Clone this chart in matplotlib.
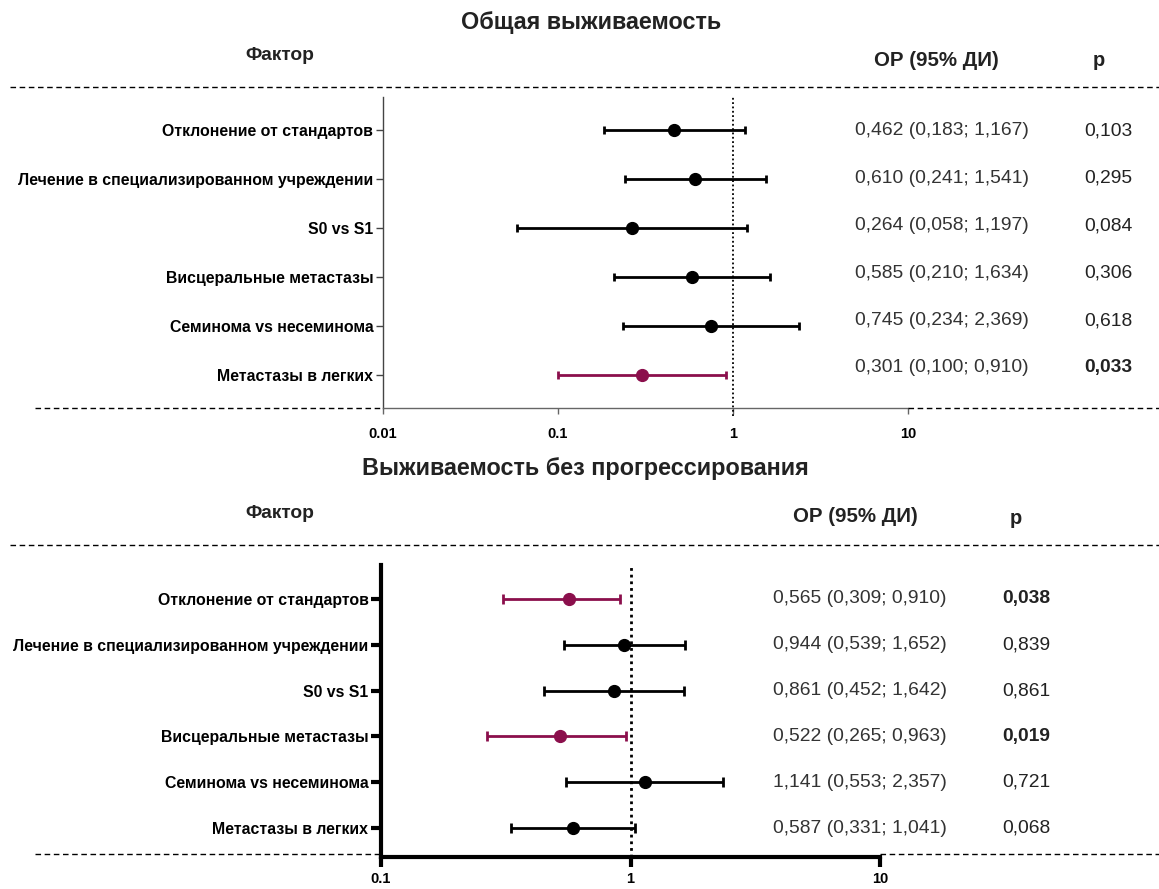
import matplotlib
matplotlib.use("Agg")
import matplotlib.pyplot as plt
from matplotlib.lines import Line2D
from matplotlib.ticker import NullLocator
from matplotlib.transforms import blended_transform_factory

plt.rcParams['font.family'] = ['Liberation Sans', 'DejaVu Sans']

factors = ["Отклонение от стандартов",
           "Лечение в специализированном учреждении",
           "S0 vs S1",
           "Висцеральные метастазы",
           "Семинома vs несеминома",
           "Метастазы в легких"]

# общая выживаемость
os_hr = [0.462, 0.610, 0.264, 0.585, 0.745, 0.301]
os_lo = [0.183, 0.241, 0.058, 0.210, 0.234, 0.100]
os_hi = [1.167, 1.541, 1.197, 1.634, 2.369, 0.910]
os_p = [0.103, 0.295, 0.084, 0.306, 0.618, 0.033]
os_ticks = [0.01, 0.1, 1, 10]
os_ticklabels = ["0.01", "0.1", "1", "10"]

# выживаемость без прогрессирования
pfs_hr = [0.565, 0.944, 0.861, 0.522, 1.141, 0.587]
pfs_lo = [0.309, 0.539, 0.452, 0.265, 0.553, 0.331]
pfs_hi = [0.910, 1.652, 1.642, 0.963, 2.357, 1.041]
pfs_p = [0.038, 0.839, 0.861, 0.019, 0.721, 0.068]
pfs_ticks = [0.1, 1, 10]
pfs_ticklabels = ["0.1", "1", "10"]

W, H = 1159, 889
SIG = "#8b0f4c"

fig = plt.figure(figsize=(W / 100, H / 100), dpi=100)


def fx(px):
    return px / W


def fy(py):
    return 1 - py / H


def hline(x0, x1, y, lw=1.0):
    fig.add_artist(Line2D([fx(x0), fx(x1)], [fy(y), fy(y)], transform=fig.transFigure,
                          color="black", lw=lw, linestyle=(0, (4, 2.6))))


def num(v):
    return f"{v:.3f}".replace(".", ",")


def forest(hr, lo, hi, pv, ticks, ticklabels, title, lay):
    left, right, top, bottom = lay["box"]
    ax = fig.add_axes([fx(left), fy(bottom), fx(right) - fx(left), fy(top) - fy(bottom)])
    n = len(hr)
    ax.set_xscale("log")
    ax.set_xlim(ticks[0], ticks[-1])
    ax.set_ylim(lay["ylim"])

    for i in range(n):
        c = SIG if pv[i] < 0.05 else "black"
        ax.errorbar(hr[i], i, xerr=[[hr[i] - lo[i]], [hi[i] - hr[i]]], fmt="o", color=c,
                    ms=lay["ms"], lw=lay["elw"], capsize=lay["cap"], capthick=lay["elw"],
                    zorder=3)

    ax.axvline(1, ymin=lay["dot_ymin"], ymax=1.0, color="black", lw=lay["dot_lw"],
               linestyle=(0, (1, 1.4)), clip_on=False, zorder=2)

    ax.set_yticks(range(n))
    ax.set_yticklabels(factors, fontsize=11.4, fontweight="bold")
    ax.set_xticks(ticks)
    ax.set_xticklabels(ticklabels, fontsize=10.5, fontweight="bold")
    ax.xaxis.set_minor_locator(NullLocator())

    for s in ["top", "right"]:
        ax.spines[s].set_visible(False)
    ax.spines["left"].set_linewidth(lay["spw"])
    ax.spines["left"].set_color(lay["lcol"])
    ax.spines["bottom"].set_linewidth(lay["spw"])
    ax.spines["bottom"].set_color(lay["bcol"])
    ax.tick_params(axis="y", length=lay["ytl"], width=lay["spw"], pad=2, colors=lay["lcol"],
                   labelcolor="black")
    ax.tick_params(axis="x", length=lay["xtl"], width=lay["spw"], pad=lay["xpad"],
                   colors=lay["bcol"], labelcolor="black")
    ax.set_facecolor("none")

    # заголовки и пунктирные разделители
    fig.text(fx(lay["title_x"]), fy(lay["title_y"]), title, ha="center", va="center",
             fontsize=16.8, fontweight="bold", color="#222222")
    fig.text(fx(280), fy(lay["head_y"]), "Фактор", ha="center", va="center",
             fontsize=13.8, fontweight="bold", color="#222222")
    fig.text(fx(lay["or_x"]), fy(lay["head_y"] + 4), "ОР (95% ДИ)", ha="center", va="center",
             fontsize=14.8, fontweight="bold", color="#222222")
    fig.text(fx(lay["ph_x"]), fy(lay["head_y"] + 5), "p", ha="center", va="center",
             fontsize=14.5, fontweight="bold", color="#222222")
    hline(10, W, lay["sep_y"])
    hline(35, left, lay["foot_y"])
    hline(right, W, lay["foot_y"])

    # таблица значений
    tr = blended_transform_factory(fig.transFigure, ax.transData)
    for i in range(n):
        ty = lay["t0"] + i * lay["tstep"]
        ax.text(fx(lay["val_x"]), ty, f"{num(hr[i])} ({num(lo[i])}; {num(hi[i])})",
                transform=tr, ha="left", va="center", fontsize=13.9, color="#333333")
        ax.text(fx(lay["p_x"]), ty, num(pv[i]), transform=tr, ha="center", va="center",
                fontsize=13.9, color="#222222",
                fontweight="bold" if pv[i] < 0.05 else "normal")
    return ax


top_lay = dict(box=(383, 908, 97, 408), ylim=(5.673, -0.673), ms=8.5, elw=2, cap=3,
               spw=1.0, lcol="#444444", bcol="#666666", ytl=5, xtl=4, xpad=10,
               dot_ymin=-0.025, dot_lw=1.3, title_x=591, title_y=22, head_y=56, or_x=936,
               ph_x=1099, sep_y=87, foot_y=408, val_x=855, p_x=1108, t0=0.02, tstep=0.967)
bot_lay = dict(box=(381, 880, 565, 857), ylim=(5.63, -0.74), ms=8.5, elw=2, cap=3.5,
               spw=3.0, lcol="black", bcol="black", ytl=7, xtl=7, xpad=4,
               dot_ymin=0.0, dot_lw=2.0, title_x=585, title_y=469, head_y=513, or_x=855,
               ph_x=1016, sep_y=545, foot_y=854, val_x=773, p_x=1026, t0=0.0, tstep=1.0)

forest(os_hr, os_lo, os_hi, os_p, os_ticks, os_ticklabels, "Общая выживаемость", top_lay)
forest(pfs_hr, pfs_lo, pfs_hi, pfs_p, pfs_ticks, pfs_ticklabels,
       "Выживаемость без прогрессирования", bot_lay)

fig.savefig("out.png", dpi=100, facecolor="white")
